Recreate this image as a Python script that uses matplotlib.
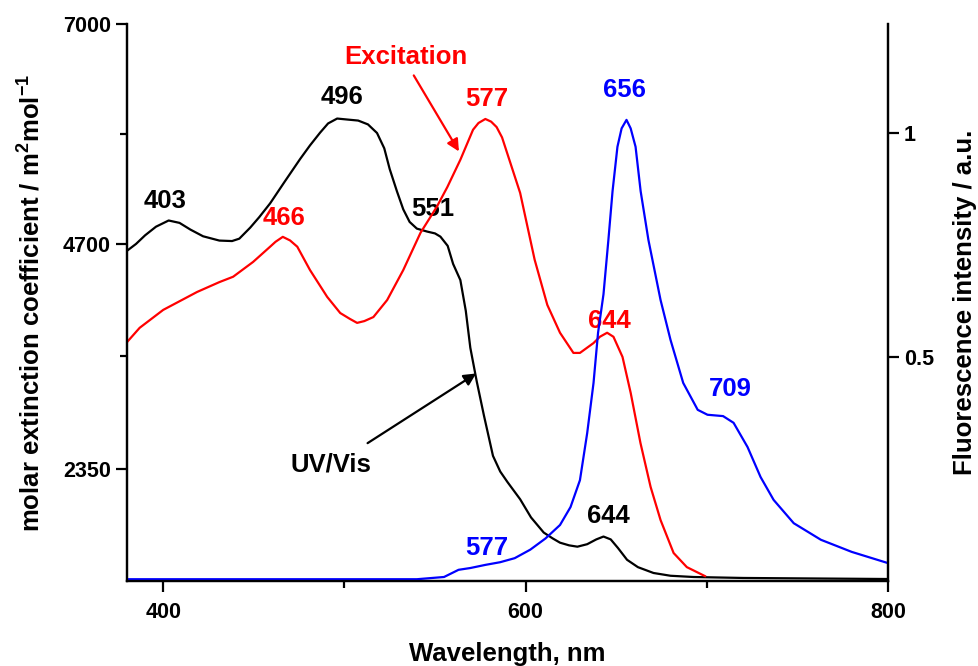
import numpy as np
import matplotlib.pyplot as plt
from matplotlib.ticker import FixedLocator

plt.rcParams['font.family'] = ['Liberation Sans', 'DejaVu Sans']
plt.rcParams['font.weight'] = 'bold'
plt.rcParams['mathtext.fontset'] = 'custom'
plt.rcParams['mathtext.rm'] = 'Liberation Sans:bold'
plt.rcParams['mathtext.bf'] = 'Liberation Sans:bold'
plt.rcParams['mathtext.default'] = 'bf'

# UV/Vis absorption (left axis)
uv_wl = [380, 385, 390, 396, 403, 409, 415, 422, 431, 438, 442, 448, 453, 459, 467,
         475.6, 481, 486.6, 491, 496, 502, 507.6, 513, 518, 522, 525, 529, 532.5, 536,
         540, 545.7, 550, 553, 557, 560, 564, 567, 569.5, 573, 577, 582, 586, 590, 597,
         603, 610, 615, 619, 624, 628.6, 634, 639, 643, 647, 651, 656, 662, 670.6, 680,
         692.7, 720, 800]
uv_eps = [4628, 4700, 4790, 4880, 4945, 4920, 4850, 4780, 4735, 4730, 4755, 4870, 4980,
          5124, 5350, 5589, 5730, 5864, 5960, 6011, 6000, 5990, 5950, 5860, 5700, 5483,
          5250, 5061, 4930, 4860, 4829, 4810, 4776, 4680, 4491, 4322, 4000, 3614, 3266,
          2907, 2484, 2320, 2210, 2030, 1840, 1682, 1620, 1576, 1548, 1534, 1560, 1610,
          1640, 1610, 1520, 1397, 1320, 1259, 1230, 1217, 1207, 1196]

# excitation spectrum (right axis)
ex_wl = [380, 387, 400, 418.7, 431, 438.6, 449.6, 459, 462, 466, 470, 474, 481, 490.5,
         497.7, 503, 507, 511, 516, 523.6, 532.5, 542, 551, 556.8, 564, 571, 574, 577.8,
         581, 584, 587, 591.6, 597, 605, 612, 619, 626.4, 630, 637.5, 641, 645, 648.5,
         653.5, 658, 663.4, 669, 674.5, 681.7, 689, 699]
ex_int = [0.533, 0.565, 0.605, 0.645, 0.667, 0.679, 0.712, 0.746, 0.757, 0.768, 0.760,
          0.746, 0.694, 0.634, 0.598, 0.585, 0.576, 0.580, 0.589, 0.627, 0.694, 0.777,
          0.835, 0.879, 0.940, 1.007, 1.022, 1.031, 1.025, 1.013, 0.990, 0.933, 0.866,
          0.717, 0.616, 0.554, 0.509, 0.509, 0.531, 0.545, 0.554, 0.545, 0.500, 0.420,
          0.308, 0.210, 0.136, 0.0625, 0.031, 0.011]

# emission spectrum (right axis)
em_wl = [380, 450, 540, 555, 563, 569.5, 577.8, 586, 594, 602.6, 611, 619, 624.8, 630,
         634, 637.5, 640, 643, 645.7, 648, 650.7, 653, 655.7, 658, 660.7, 663.5, 667.8,
         674.5, 680, 687, 695, 700.4, 709, 714.8, 722.5, 729.7, 736.9, 748, 763, 780, 800]
em_int = [0.004, 0.004, 0.004, 0.009, 0.025, 0.029, 0.036, 0.042, 0.051, 0.070, 0.095,
          0.125, 0.165, 0.225, 0.330, 0.442, 0.554, 0.640, 0.761, 0.870, 0.969, 1.010,
          1.029, 1.010, 0.969, 0.870, 0.761, 0.627, 0.538, 0.442, 0.382, 0.371, 0.368,
          0.353, 0.299, 0.232, 0.181, 0.129, 0.092, 0.065, 0.040]

fig = plt.figure(figsize=(9.79, 6.66), dpi=100)
ax = fig.add_axes([0.1297, 0.1276, 0.7773, 0.8364])
ax2 = ax.twinx()

ax.plot(uv_wl, uv_eps, color='black', lw=1.6)
ax2.plot(ex_wl, ex_int, color='red', lw=1.6)
ax2.plot(em_wl, em_int, color='blue', lw=1.6)

ax.set_xlim(380, 800)
ax.set_ylim(1175, 7000)
ax2.set_ylim(0, 1.243)

ax.set_xticks([400, 600, 800])
ax.xaxis.set_minor_locator(FixedLocator([500, 700]))
ax.set_yticks([2350, 4700, 7000])
ax.yaxis.set_minor_locator(FixedLocator([3525, 5850]))
ax2.set_yticks([0.5, 1])
ax2.set_yticklabels(['0.5', '1'])

for a in (ax, ax2):
    a.spines['top'].set_visible(False)
    for s in a.spines.values():
        s.set_linewidth(1.6)
    a.tick_params(which='major', direction='out', length=8, width=1.6, labelsize=15.5)
    a.tick_params(which='minor', direction='out', length=5, width=1.6)
ax.tick_params(axis='x', pad=7)

ax.set_xlabel('Wavelength, nm', fontsize=18.5, fontweight='bold', labelpad=14)
ax.set_ylabel('molar extinction coefficient / m$^2$mol$^{-1}$', fontsize=18.5,
              fontweight='bold', labelpad=13)
ax2.set_ylabel('Fluorescence intensity / a.u.', fontsize=18.5, fontweight='bold',
               labelpad=14)

labels = [
    ('403', 401, 5146, 'black'),
    ('496', 498.8, 6233, 'black'),
    ('551', 549, 5061, 'black'),
    ('644', 645.7, 1851, 'black'),
    ('466', 466.7, 4966, 'red'),
    ('577', 578.3, 6212, 'red'),
    ('644', 646.3, 3899, 'red'),
    ('Excitation', 534, 6656, 'red'),
    ('656', 654.6, 6307, 'blue'),
    ('709', 713, 3181, 'blue'),
    ('577', 578.3, 1523, 'blue'),
    ('UV/Vis', 492.7, 2389, 'black'),
]
for txt, x, y, c in labels:
    ax.text(x, y, txt, color=c, fontsize=18.5, fontweight='bold', ha='center', va='center',
            zorder=5)

ax.annotate('', xy=(564, 5642), xytext=(537.5, 6487),
            arrowprops=dict(arrowstyle='-|>', color='red', lw=1.6, mutation_scale=18))
ax.annotate('', xy=(574, 3361), xytext=(511.5, 2601),
            arrowprops=dict(arrowstyle='-|>', color='black', lw=1.6, mutation_scale=18))

fig.savefig('out.png', dpi=100)
